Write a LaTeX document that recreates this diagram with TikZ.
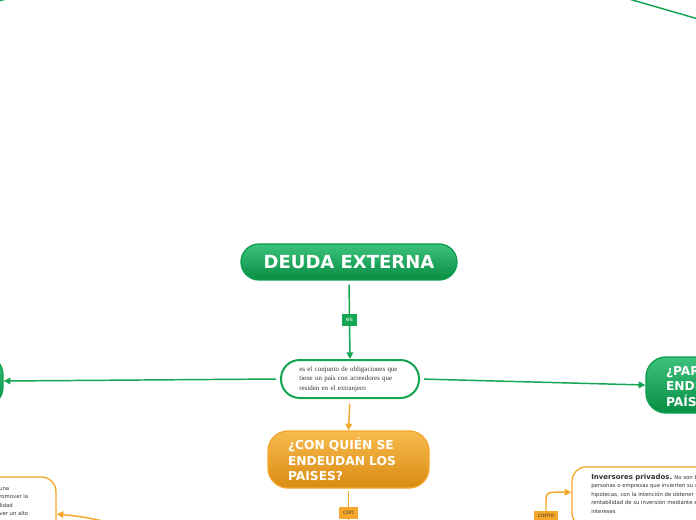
\documentclass[tikz,border=0pt]{standalone}
\usepackage{fontspec}
\setmainfont{DejaVu Sans}
\newfontfamily\serifbody{Liberation Serif}
\usetikzlibrary{arrows.meta}
\definecolor{gline}{HTML}{13A552}
\definecolor{gtop}{HTML}{3CC27C}
\definecolor{gbot}{HTML}{078E42}
\definecolor{gborder}{HTML}{0E9E4E}
\definecolor{oline}{HTML}{F5A82B}
\definecolor{otop}{HTML}{F8BB4E}
\definecolor{obot}{HTML}{D98B12}
\definecolor{oborder}{HTML}{F3A72C}
\definecolor{labtxt}{HTML}{5A4420}
\definecolor{bodytxt}{HTML}{333333}
\begin{document}
\begin{tikzpicture}[x=0.75pt,y=-0.75pt,
  gconn/.style={draw=gline,line width=1.1pt},
  oconn/.style={draw=oline,line width=1.1pt},
  tip/.style={-{Triangle[length=5pt,width=5pt]}},
  greenbox/.style={rounded corners=14pt,draw=gborder,line width=1pt,top color=gtop,bottom color=gbot,text=white,inner sep=0pt},
  orangebox/.style={rounded corners=15pt,draw=oborder,line width=1pt,top color=otop,bottom color=obot,text=white,inner sep=0pt},
  qtext/.style={font=\fontsize{9.2}{11.6}\selectfont\bfseries,align=left,text width=90.75pt},
  whitebox/.style={fill=white,inner sep=0pt},
  smalltxt/.style={font=\fontsize{4}{6.4}\selectfont,text=bodytxt,inner sep=0pt},
  glab/.style={fill=gline,text=white,font=\fontsize{4.5}{5}\selectfont,inner sep=0pt,minimum height=9pt},
  olab/.style={fill=oline,text=labtxt,font=\fontsize{4.5}{5}\selectfont,inner sep=0pt,minimum height=8.5pt}
]
\useasboundingbox (0,0) rectangle (696,520);

% nodes
\node[greenbox,rounded corners=13.5pt,minimum width=162pt,minimum height=27pt,
      font=\fontsize{13.5}{16}\selectfont\bfseries] (deuda) at (349,262) {DEUDA EXTERNA};
\node[whitebox,draw=gline,line width=1.5pt,rounded corners=14pt,minimum width=103.5pt,minimum height=28.5pt,
      text=bodytxt,align=left,text width=76pt,font=\serifbody\fontsize{5.2}{7.1}\selectfont] (def) at (350,379)
      {es el conjunto de obligaciones que\\tiene un país con acreedores que\\residen en el extranjero};
\node[orangebox,minimum width=120.75pt,minimum height=42.75pt,qtext] (quien) at (348.5,459.5)
      {¿CON QUIÉN SE\\ENDEUDAN LOS\\PAISES?};
\node[greenbox,rounded corners=15pt,minimum width=120.75pt,minimum height=42pt,qtext] (para) at (726.5,385)
      {¿PARA QUÉ SE\\ENDEUDAN LOS\\PAÍSES?};
\node[greenbox,rounded corners=15pt,minimum width=120pt,minimum height=39pt] (izq) at (-77,381) {};
\node[whitebox,draw=oline,line width=1pt,rounded corners=10.5pt,minimum width=150pt,minimum height=45pt] (inv) at (672,497) {};
\node[smalltxt,anchor=north west,align=left] (invtxt) at (591,473.5)
  {{\fontsize{5.25}{6.4}\selectfont\bfseries Inversores privados.} No son bancos, son\\
   personas o empresas que invierten su dinero\\
   hipotecas, con la intención de obtener una\\
   rentabilidad de su inversión mediante el\\
   intereses};
\node[whitebox,draw=oline,line width=1pt,rounded corners=11pt,minimum width=154.5pt,minimum height=55.5pt] (lbox) at (-47,514) {};
\node[smalltxt,anchor=base east] (l1) at (9.5,490.5) {de una};
\node[smalltxt,anchor=base east] (l2) at (28.5,498.5) {para promover la};
\node[smalltxt,anchor=base east] (l3) at (13,507.5) {estabilidad};
\node[smalltxt,anchor=base east] (l4) at (28.5,515.5) {y promover un alto};

% free ends
\coordinate (conEnd) at (348.5,540);
\coordinate (comoStart) at (546,540);
\coordinate (blStart) at (135,528);
\coordinate (tlA) at (-25,7);
\coordinate (tlB) at (14,-3);
\coordinate (trA) at (622,-3);
\coordinate (trB) at (712,23);

% connectors
\draw[gconn,tip,shorten <=3pt] (deuda.south) -- (def.north);
\draw[gconn,tip,shorten <=3pt] (def.west) -- (izq.east);
\draw[gconn,tip,shorten <=3pt] (def.east) -- (para.west);
\draw[oconn,tip,shorten <=3.5pt] (def.south) -- (quien.north);
\draw[oconn,shorten <=1.5pt] (quien.south) -- (conEnd);
\draw[oconn,tip] (comoStart) -- (546,502) .. controls (546,492) .. ([yshift=3.5pt]inv.west);
\draw[oconn,tip] (blStart) .. controls (85,517) .. (lbox.east);
\draw[gconn] (tlA) -- (tlB);
\draw[gconn] (trA) -- (trB);

% labels
\node[glab,minimum width=11.25pt] (es) at (349.5,320) {es};
\node[olab,minimum width=14pt,minimum height=9pt] (con) at (348.5,513) {con};
\node[olab,minimum width=18pt,minimum height=7.5pt] (como) at (546,515.5) {como};
\end{tikzpicture}
\end{document}
